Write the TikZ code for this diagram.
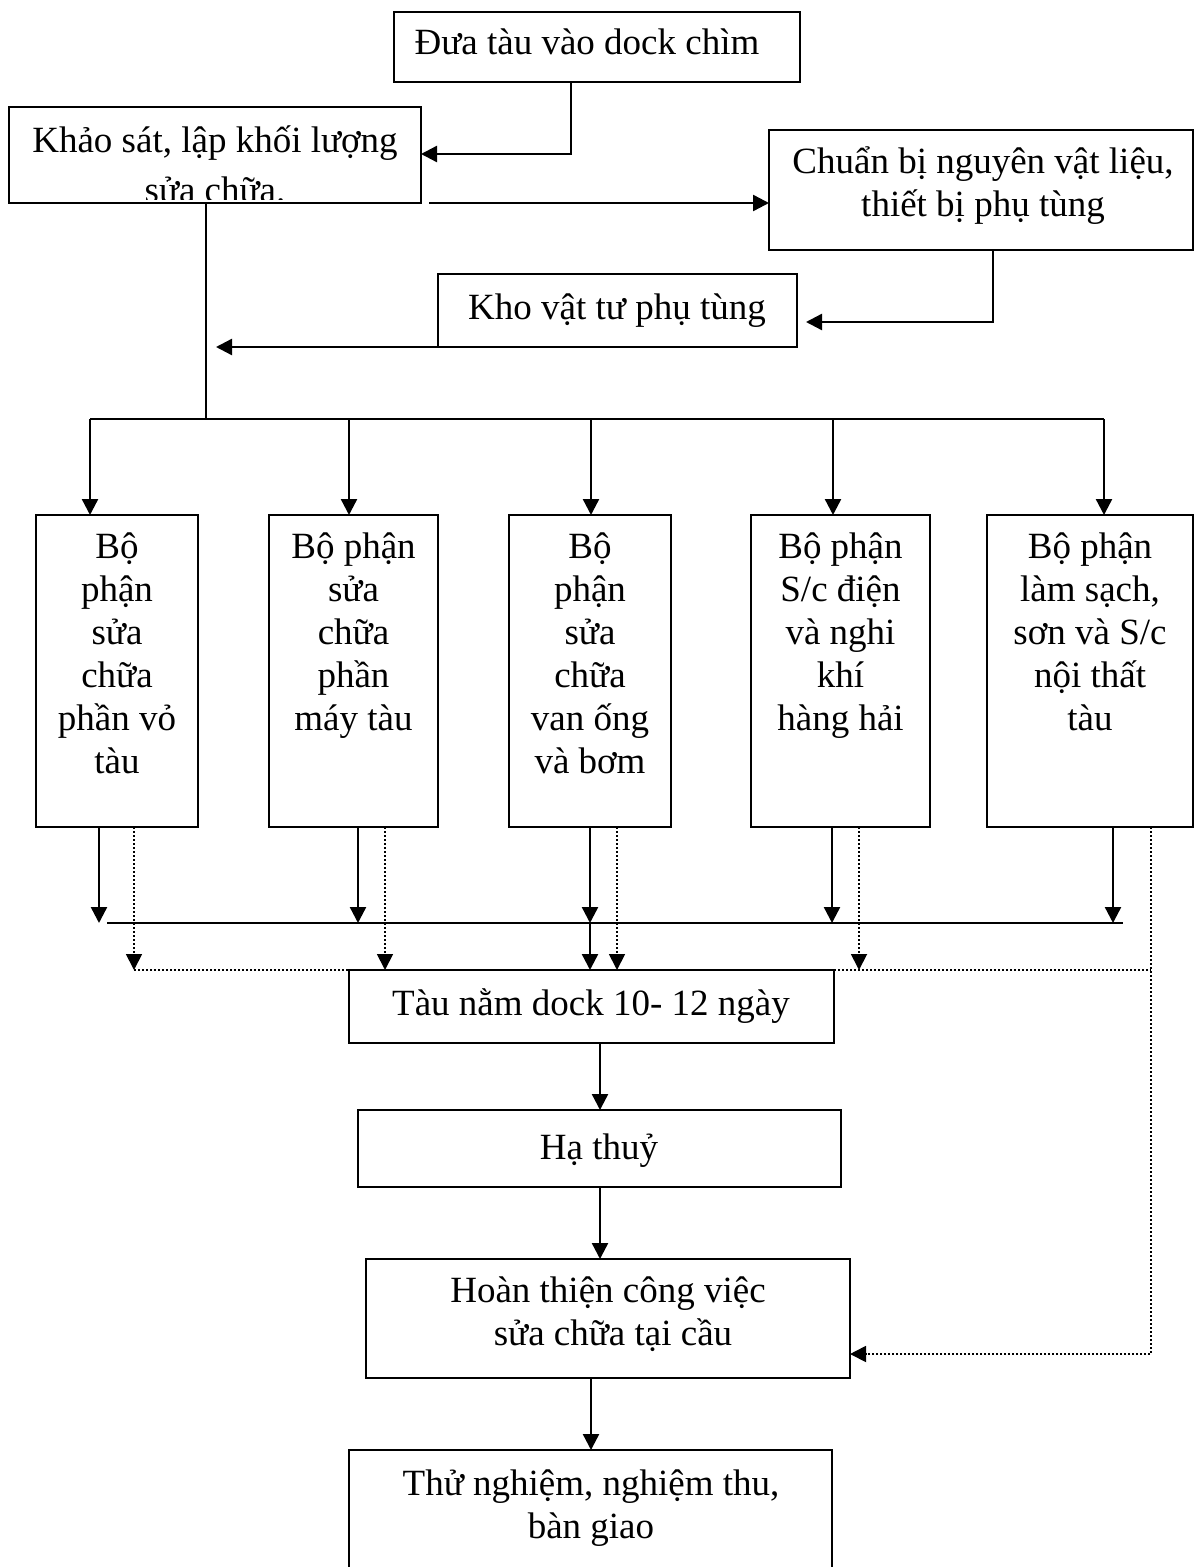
\documentclass[tikz,border=0pt]{standalone}
\usepackage{fontspec}
\setmainfont{Liberation Serif}
\usetikzlibrary{arrows.meta}
\newcommand\mystrut{\rule{0pt}{17pt}}
\begin{document}
\begin{tikzpicture}[x=0.5pt,y=-0.5pt,
  box/.style={draw, line width=1.4pt, inner sep=0pt, outer sep=0pt, anchor=north west},
  txt/.style={inner sep=0pt, align=center, font=\fontsize{18.5pt}{21.5pt}\selectfont},
  ln/.style={line width=1.2pt},
  arr/.style={line width=1.2pt, -{Triangle[length=8pt,width=8pt]}},
  dotln/.style={line width=0.9pt, dash pattern=on 0.9pt off 1.1pt},
  darr/.style={dotln, -{Triangle[length=8pt,width=8pt]}},
]
\clip (0,0) rectangle (1195,1567);
\fill[white] (0,0) rectangle (1195,1567);

% boxes
\node[box, minimum width=203pt, minimum height=35pt] (A) at (394,12) {};
\node[box, minimum width=206pt, minimum height=48pt] (B) at (9,107) {};
\node[box, minimum width=212pt, minimum height=60pt] (C) at (769,130) {};
\node[box, minimum width=179.5pt, minimum height=36.5pt] (D) at (438,274) {};
\node[box, minimum width=81pt, minimum height=156pt] (p1) at (36,515) {};
\node[box, minimum width=84.5pt, minimum height=156pt] (p2) at (269,515) {};
\node[box, minimum width=81pt, minimum height=156pt] (p3) at (509,515) {};
\node[box, minimum width=89.5pt, minimum height=156pt] (p4) at (751,515) {};
\node[box, minimum width=103pt, minimum height=156pt] (p5) at (987,515) {};
\node[box, minimum width=242.5pt, minimum height=36.5pt] (T) at (349,970) {};
\node[box, minimum width=241.5pt, minimum height=38.5pt] (Ha) at (358,1110) {};
\node[box, minimum width=242pt, minimum height=59.5pt] (Ho) at (366,1259) {};
\node[box, minimum width=241.5pt, minimum height=90pt] (Th) at (349,1450) {};

% texts
\node[txt, anchor=base] (At) at (587,55) {Đưa tàu vào dock chìm};
\begin{scope}
\clip (9,107) rectangle (421,200);
\node[txt, anchor=north] (Bt) at (215,118) {\mystrut Khảo sát, lập khối lượng\\[3.5pt] sửa chữa.};
\end{scope}
\node[txt, anchor=north] (Ct) at (983,139) {\mystrut Chuẩn bị nguyên vật liệu,\\ thiết bị phụ tùng};
\node[txt, anchor=base] (Dt) at (617,320) {Kho vật tư phụ tùng};
\node[txt, anchor=north] (p1t) at (117,524) {\mystrut Bộ\\ phận\\ sửa\\ chữa\\ phần vỏ\\ tàu};
\node[txt, anchor=north] (p2t) at (353.5,524) {\mystrut Bộ phận\\ sửa\\ chữa\\ phần\\ máy tàu};
\node[txt, anchor=north] (p3t) at (590,524) {\mystrut Bộ\\ phận\\ sửa\\ chữa\\ van ống\\ và bơm};
\node[txt, anchor=north] (p4t) at (840.5,524) {\mystrut Bộ phận\\ S/c điện\\ và nghi\\ khí\\ hàng hải};
\node[txt, anchor=north] (p5t) at (1090,524) {\mystrut Bộ phận\\ làm sạch,\\ sơn và S/c\\ nội thất\\ tàu};
\node[txt, anchor=base] (Tt) at (591,1015) {Tàu nằm dock 10- 12 ngày};
\node[txt, anchor=base] (Hat) at (599,1159) {Hạ thuỷ};
\node[txt, anchor=north] (Hot) at (608,1268) {\mystrut Hoàn thiện công việc\\ \hspace{5pt}sửa chữa tại cầu};
\node[txt, anchor=north] (Tht) at (591,1461) {\mystrut Thử nghiệm, nghiệm thu,\\ bàn giao};

% upper connectors
\coordinate (k1) at (571,154);
\draw[arr] (A.south -| k1) |- (B.east |- k1);
\coordinate (k2) at (429,203);
\draw[arr] (k2) -- (C.west |- k2);
\coordinate (k3) at (993,322);
\draw[arr, shorten >=4.5pt] (C.south -| k3) |- (D.east |- k3);
\coordinate (k4) at (216,347);
\draw[arr] (D.south west) -- (k4);
\coordinate (k5) at (206,419);
\draw[ln] (B.south -| k5) -- (k5);

% distribution bus
\coordinate (d1) at (90,419);
\coordinate (d2) at (349,419);
\coordinate (d3) at (591,419);
\coordinate (d4) at (833,419);
\coordinate (d5) at (1104,419);
\draw[ln] (d1) -- (d5);
\draw[arr] (d1) -- (p1.north -| d1);
\draw[arr] (d2) -- (p2.north -| d2);
\draw[arr] (d3) -- (p3.north -| d3);
\draw[arr] (d4) -- (p4.north -| d4);
\draw[arr] (d5) -- (p5.north -| d5);

% collecting bus (solid)
\coordinate (e1) at (107,923);
\coordinate (e2) at (1123,923);
\draw[ln] (e1) -- (e2);
\coordinate (s1) at (99,923);
\coordinate (s2) at (358,923);
\coordinate (s3) at (590,923);
\coordinate (s4) at (832,923);
\coordinate (s5) at (1113,923);
\draw[arr] (p1.south -| s1) -- (s1);
\draw[arr] (p2.south -| s2) -- (s2);
\draw[arr] (p3.south -| s3) -- (s3);
\draw[arr] (p4.south -| s4) -- (s4);
\draw[arr] (p5.south -| s5) -- (s5);
\draw[arr] (s3) -- (T.north -| s3);

% dotted connectors
\coordinate (q1) at (134,970);
\coordinate (q2) at (385,970);
\coordinate (q3) at (617,970);
\coordinate (q4) at (859,970);
\coordinate (q5) at (1151,1354);
\draw[darr] (p1.south -| q1) -- (q1);
\draw[darr] (p2.south -| q2) -- (T.north -| q2);
\draw[darr] (p3.south -| q3) -- (T.north -| q3);
\draw[darr] (p4.south -| q4) -- (T.north -| q4);
\draw[dotln] (q1) -- (T.north west);
\draw[dotln] (T.north east) -- (T.north -| q5);
\draw[darr] (p5.south -| q5) |- (Ho.east |- q5);

% main chain
\coordinate (m1) at (600,0);
\coordinate (m2) at (591,0);
\draw[arr] (T.south -| m1) -- (Ha.north -| m1);
\draw[arr] (Ha.south -| m1) -- (Ho.north -| m1);
\draw[arr] (Ho.south -| m2) -- (Th.north -| m2);
\end{tikzpicture}
\end{document}
